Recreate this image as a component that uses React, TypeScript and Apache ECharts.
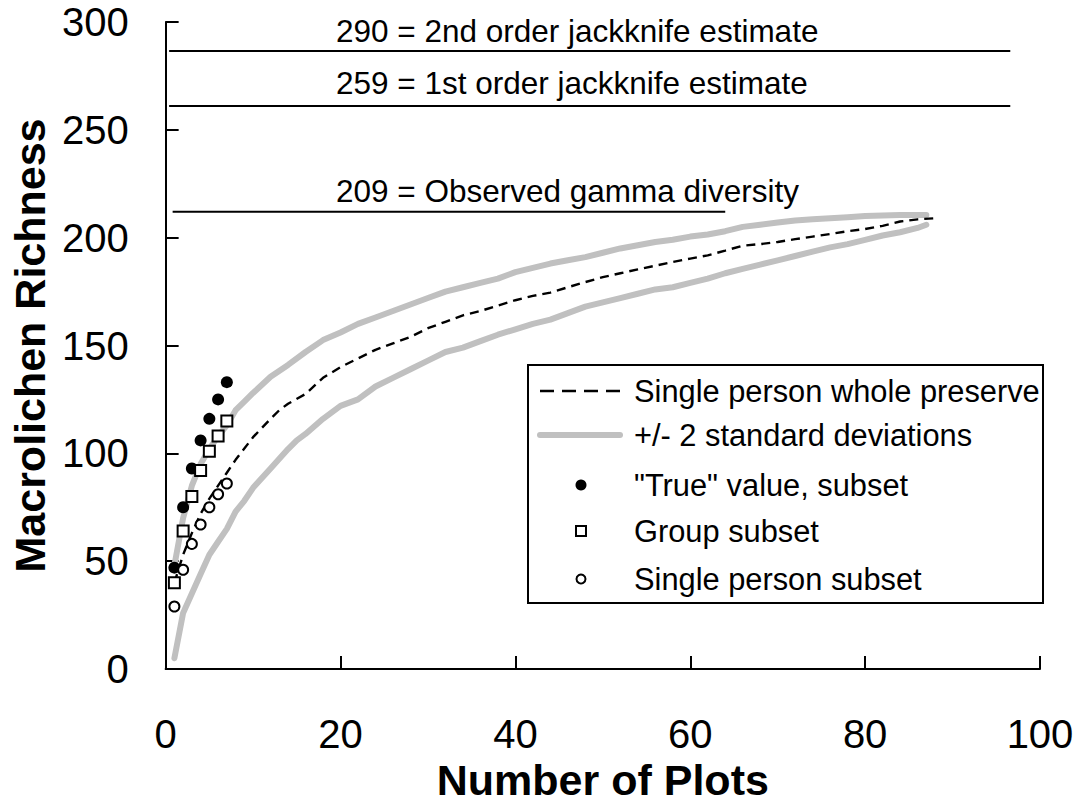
import React, { useEffect, useRef } from "react";
import * as echarts from "echarts";

// ---- data ----
const xTicks = [0, 20, 40, 60, 80, 100];
const yTicks = [0, 50, 100, 150, 200, 250, 300];

const upperX = [1, 2, 3, 4, 5, 6, 7, 8, 9, 10, 12, 14, 16, 18, 20, 22, 24, 26, 28, 30, 32, 34, 36, 38, 40, 42, 44, 46, 48, 50, 52, 54, 56, 58, 60, 62, 64, 66, 68, 70, 72, 74, 76, 78, 80, 82, 84, 86, 87];
const upperY = [48, 70, 85, 95, 102, 108, 113, 120, 124, 128, 135.5, 141, 147, 152.5, 156, 160, 163, 166, 169, 172, 175, 177, 179, 181, 184, 186, 188, 189.5, 191, 193, 195, 196.5, 198, 199, 200.5, 201.5, 203, 205, 206, 207, 208, 208.5, 209, 209.5, 210, 210.3, 210.5, 210.5, 210.5];

const wholeX = [1, 2, 3, 4, 5, 6, 7, 8, 10, 12, 13, 14, 16, 18, 20, 22, 24, 26, 28, 30, 32, 34, 36, 38, 40, 42, 44, 46, 48, 50, 52, 54, 56, 58, 60, 62, 64, 66, 68, 70, 72, 74, 76, 78, 80, 82, 84, 86, 88];
const wholeY = [40, 53, 63, 72, 79, 85, 91, 97, 107.5, 116, 120, 123, 127.5, 135, 140, 144, 148, 151, 154, 158, 161, 164, 166, 168.5, 171, 173, 174.5, 177, 179.4, 181.7, 183.5, 185.3, 187, 188.7, 190.3, 191.8, 194, 196.3, 197, 198, 199.3, 200.5, 201.7, 203, 204, 205.5, 207.5, 208.5, 209];

const lowerX = [1, 2, 3, 4, 5, 6, 7, 8, 9, 10, 12, 14, 15, 16, 18, 20, 22, 24, 26, 28, 30, 32, 34, 36, 38, 40, 42, 44, 46, 48, 50, 52, 54, 56, 58, 60, 62, 64, 66, 68, 70, 72, 74, 76, 78, 80, 82, 84, 86, 87];
const lowerY = [5, 26, 35, 44, 53, 59, 65, 73, 78, 84, 93, 102, 106, 109, 116, 122, 125, 131, 135, 139, 143, 147, 149, 152, 155, 157.5, 160, 162, 165, 168, 170, 172, 174, 176, 177, 179, 181, 183.5, 185.5, 187.5, 189.5, 191.5, 193.5, 195.5, 197, 199, 201, 202.5, 204.5, 206];

const subsetX = [1, 2, 3, 4, 5, 6, 7];
const trueY = [47, 75, 93, 106, 116, 125, 133];
const groupY = [40, 64, 80, 92, 101, 108, 115];
const singleY = [29, 46, 58, 67, 75, 81, 86];

const refLabels = ["290 = 2nd order jackknife estimate", "259 = 1st order jackknife estimate", "209 = Observed gamma diversity"];
const refY = [286.5, 261, 212];
const refStart = [0.4, 0.4, 0.8];
const refEnd = [96.6, 96.6, 64];

const legendLabels = ["Single person whole preserve", "+/- 2 standard deviations", "\"True\" value, subset", "Group subset", "Single person subset"];

const FONT = "'Liberation Sans', Arial, Helvetica, sans-serif";

function zip(xs: number[], ys: number[]) {
  return xs.map((x, i) => [x, ys[i]]);
}

export default function App() {
  const ref = useRef<HTMLDivElement>(null);
  useEffect(() => {
    if (!ref.current) return;
    const chart = echarts.init(ref.current, undefined, { renderer: "svg" });

    const gray = "#c0c0c0";
    const series: any[] = [];
    refLabels.forEach((_, i) => {
      series.push({
        type: "line",
        data: [[refStart[i], refY[i]], [refEnd[i], refY[i]]],
        symbol: "none",
        lineStyle: { color: "#000", width: 2 },
        silent: true,
      });
    });
    series.push({
      type: "line", data: zip(upperX, upperY), symbol: "none",
      lineStyle: { color: gray, width: 6, cap: "round", join: "round" }, z: 2,
    });
    series.push({
      type: "line", data: zip(lowerX, lowerY), symbol: "none",
      lineStyle: { color: gray, width: 6, cap: "round", join: "round" }, z: 2,
    });
    series.push({
      type: "line", data: zip(wholeX, wholeY), symbol: "none",
      lineStyle: { color: "#000", width: 2.4, type: [9, 6] }, z: 3,
    });
    series.push({
      type: "scatter", data: zip(subsetX, trueY), symbol: "circle", symbolSize: 12,
      itemStyle: { color: "#000", opacity: 1 }, z: 5,
    });
    series.push({
      type: "scatter", data: zip(subsetX, groupY), symbol: "rect", symbolSize: 11,
      itemStyle: { color: "#fff", borderColor: "#000", borderWidth: 2, opacity: 1 }, z: 5,
    });
    series.push({
      type: "scatter", data: zip(subsetX, singleY), symbol: "circle", symbolSize: 10,
      itemStyle: { color: "#fff", borderColor: "#000", borderWidth: 2, opacity: 1 }, z: 5,
    });

    const refTextY = [31, 83, 190.5];
    const graphic: any[] = refLabels.map((t, i) => ({
      type: "text",
      x: 336,
      y: refTextY[i],
      style: { text: t, font: `31.5px ${FONT}`, fill: "#000", verticalAlign: "middle", align: "left" },
      z: 10,
    }));

    // legend
    const rowY = [391, 435, 485, 531, 579];
    graphic.push({
      type: "rect",
      shape: { x: 528, y: 365, width: 515, height: 238 },
      style: { fill: "#fff", stroke: "#000", lineWidth: 2 },
      z: 20,
    });
    graphic.push({
      type: "line",
      shape: { x1: 540, y1: rowY[0], x2: 622, y2: rowY[0] },
      style: { stroke: "#000", lineWidth: 2.4, lineDash: [14, 8] },
      z: 21,
    });
    graphic.push({
      type: "line",
      shape: { x1: 540, y1: rowY[1], x2: 620, y2: rowY[1] },
      style: { stroke: gray, lineWidth: 6, lineCap: "round" },
      z: 21,
    });
    graphic.push({
      type: "circle",
      shape: { cx: 581, cy: rowY[2], r: 5.5 },
      style: { fill: "#000" },
      z: 21,
    });
    graphic.push({
      type: "rect",
      shape: { x: 576, y: rowY[3] - 5, width: 10, height: 10 },
      style: { fill: "#fff", stroke: "#000", lineWidth: 2 },
      z: 21,
    });
    graphic.push({
      type: "circle",
      shape: { cx: 581, cy: rowY[4], r: 4.5 },
      style: { fill: "#fff", stroke: "#000", lineWidth: 2 },
      z: 21,
    });
    legendLabels.forEach((t, i) => {
      graphic.push({
        type: "text",
        x: 634,
        y: rowY[i],
        style: { text: t, font: `30.8px ${FONT}`, fill: "#000", verticalAlign: "middle", align: "left" },
        z: 21,
      });
    });

    chart.setOption({
      animation: false,
      backgroundColor: "#fff",
      grid: { left: 162, right: 39, top: 22, bottom: 140, containLabel: false },
      xAxis: {
        type: "value",
        min: xTicks[0],
        max: xTicks[xTicks.length - 1],
        interval: 20,
        name: "Number of Plots",
        nameLocation: "middle",
        nameGap: 86,
        nameTextStyle: { fontFamily: FONT, fontSize: 43, fontWeight: "bold", color: "#000" },
        axisLine: { show: true, onZero: false, lineStyle: { color: "#000", width: 2 } },
        axisTick: { show: true, inside: true, length: 13, lineStyle: { color: "#000", width: 2 } },
        axisLabel: { fontFamily: FONT, fontSize: 40, color: "#000", margin: 45 },
        splitLine: { show: false },
      },
      yAxis: {
        type: "value",
        min: yTicks[0],
        max: yTicks[yTicks.length - 1],
        interval: 50,
        name: "Macrolichen Richness",
        nameLocation: "middle",
        nameRotate: 90,
        nameGap: 112,
        nameTextStyle: { fontFamily: FONT, fontSize: 43, fontWeight: "bold", color: "#000" },
        axisLine: { show: true, onZero: false, lineStyle: { color: "#000", width: 2 } },
        axisTick: { show: true, inside: true, length: 13, lineStyle: { color: "#000", width: 2 } },
        axisLabel: { fontFamily: FONT, fontSize: 40, color: "#000", margin: 37 },
        splitLine: { show: false },
      },
      series,
      graphic,
    });
    return () => chart.dispose();
  }, []);
  return (
    <div
      ref={ref}
      style={{ position: "fixed", left: 0, top: 0, width: 1079, height: 809, background: "#fff" }}
    />
  );
}
